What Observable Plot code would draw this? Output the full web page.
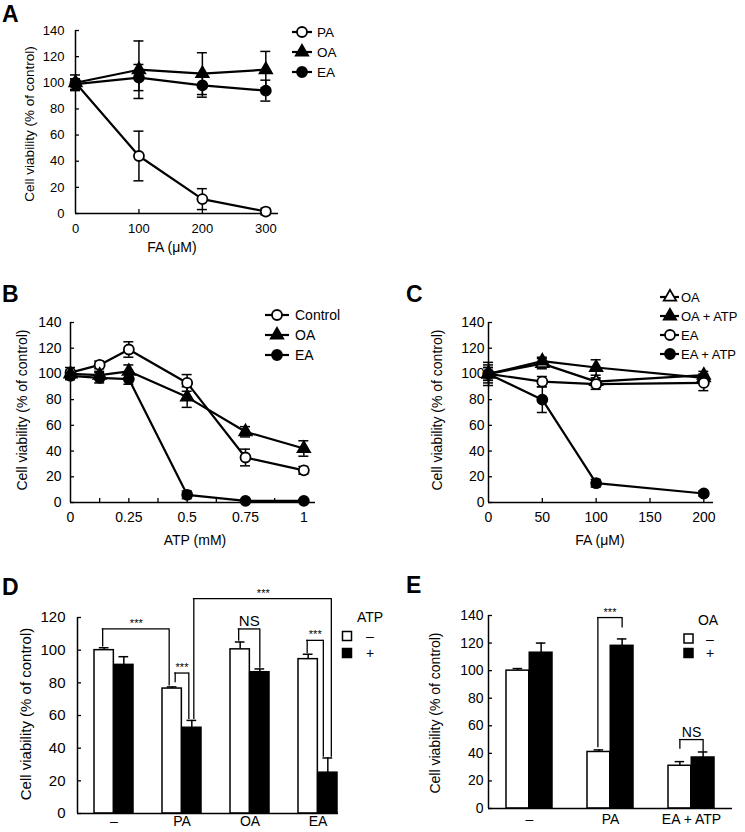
<!DOCTYPE html>
<html>
<head>
<meta charset="utf-8">
<script src="https://cdn.jsdelivr.net/npm/d3@7"></script>
<script src="https://cdn.jsdelivr.net/npm/@observablehq/plot@0.6"></script>
<style>
html,body{margin:0;padding:0;background:#fff;}
#fig{position:relative;width:745px;height:832px;overflow:hidden;background:#fff;}
#fig svg{position:absolute;left:0;top:0;}
</style>
</head>
<body>
<div id="fig"></div>
<script>
// ================= DATA =================
// Panel A
const faA = [0, 100, 200, 300];
const paA = [100, 44, 11, 1.5];
const paAErr = [3, 19, 8, 2.5];
const oaA = [100, 110, 107, 110];
const oaAErr = [6, 22, 16, 14];
const eaA = [99, 104, 98, 94];
const eaAErr = [4, 10, 9, 8];
const xLabelsA = [0, 100, 200, 300];

// Panel B
const atpB = [0, 0.125, 0.25, 0.5, 0.75, 1];
const ctrlB = [101, 107, 119, 93, 35, 25];
const ctrlBErr = [4, 3, 6, 6.5, 6.5, 3];
const oaB = [100, 99, 102, 82, 55, 42];
const oaBErr = [3, 3, 5, 8, 4, 6];
const eaB = [98.5, 97, 96, 6, 1.3, 1.3];
const eaBErr = [3, 4, 4, 3, 1, 1];
const xLabelsB = [0, 0.25, 0.5, 0.75, 1];
const xMinorB = [0.125, 0.25, 0.375, 0.5, 0.625, 0.75, 0.875, 1];

// Panel C
const faC = [0, 50, 100, 200];
const oaC = [100, 108, 94, 99];
const oaCErr = [9, 4, 3, 3];
const oaAtpC = [100, 110, 105, 97];
const oaAtpCErr = [5, 3, 6, 3];
const eaC = [100, 94, 92, 93];
const eaCErr = [7, 4, 4, 6];
const eaAtpC = [100, 80, 15, 7];
const eaAtpCErr = [5, 10, 3, 2];
const xLabelsC = [0, 50, 100, 150, 200];

const yTicks140 = [0, 20, 40, 60, 80, 100, 120, 140];
const yTicks120 = [0, 20, 40, 60, 80, 100, 120];

// Panel D
const groupsD = ["–", "PA", "OA", "EA"];
const atpMinusD = [100, 76.5, 100.5, 94.5];
const atpMinusDErr = [1.5, 1, 4.5, 3];
const atpPlusD = [91, 52.5, 86.5, 25];
const atpPlusDErr = [5, 4.5, 2, 9];
const bracketsD = [
  {g1: "–", s1: "minus", g2: "PA", s2: "minus", y1: 102, yTop: 113, y2: 78, label: "***"},
  {g1: "PA", s1: "minus", g2: "PA", s2: "plus", y1: 80, yTop: 86, y2: 57.5, label: "***"},
  {g1: "PA", s1: "plus", g2: "EA", s2: "plus", y1: 57.5, yTop: 131.5, y2: 34.5, label: "***"},
  {g1: "OA", s1: "minus", g2: "OA", s2: "plus", y1: 105.5, yTop: 113, y2: 89, label: "NS"},
  {g1: "EA", s1: "minus", g2: "EA", s2: "plus", y1: 98, yTop: 106, y2: 34.5, label: "***"}
];

// Panel E
const groupsE = ["–", "PA", "EA + ATP"];
const oaMinusE = [100, 41, 31];
const oaMinusEErr = [1.5, 1.5, 3];
const oaPlusE = [113, 118, 37];
const oaPlusEErr = [7, 5, 4];
const bracketsE = [
  {g1: "PA", s1: "minus", g2: "PA", s2: "plus", y1: 44, yTop: 138.5, y2: 131, label: "***"},
  {g1: "EA + ATP", s1: "minus", g2: "EA + ATP", s2: "plus", y1: 43, yTop: 50, y2: 41, label: "NS"}
];

// ================= STYLE / LAYOUT =================
const W = 745, H = 832;
const FONT = "Arial, 'Liberation Sans', Helvetica, sans-serif";
const fig = document.getElementById("fig");
// small pixel nudges so that overlapping bracket legs stay visible
const nudgesD = [[-1.5, -3], [3, -3], [2, 3.5], [-1.5, 0], [-1, -4.5]];
const nudgesE = [[-1, 0], [0, 0]];

function addPlot(opts) {
  const svg = Plot.plot({
    width: W, height: H, ...opts,
    style: {fontFamily: FONT, fontSize: "13px", color: "#000", background: "transparent", overflow: "visible"}
  });
  svg.style.position = "absolute";
  svg.style.left = "0px";
  svg.style.top = "0px";
  fig.appendChild(svg);
}

function linePanel(cfg) {
  const marks = [];
  marks.push(Plot.ruleY([0], {stroke: "#000", strokeWidth: 1.5}));
  marks.push(Plot.ruleX([cfg.xDomain[0]], {stroke: "#000", strokeWidth: 1.5}));
  marks.push(Plot.axisY({ticks: cfg.yTicks, tickSize: -4, tickPadding: cfg.yPad, tickFormat: d => String(d), fontSize: cfg.fs, label: null, strokeWidth: 1.3, fill: "#000"}));
  marks.push(Plot.axisX({ticks: cfg.xMinor, tickSize: -4, tickFormat: () => "", label: null, strokeWidth: 1.3}));
  marks.push(Plot.axisX({ticks: cfg.xLabels, tickSize: 0, tickPadding: cfg.xPad, tickFormat: d => String(d), fontSize: cfg.fs, label: null, fill: "#000"}));
  const sets = cfg.series.map(s => s.x.map((x, i) => ({x, y: s.y[i], e: s.err[i]})));
  sets.forEach(rows => marks.push(Plot.line(rows, {x: "x", y: "y", stroke: "#000", strokeWidth: 2.2})));
  sets.forEach(rows => {
    marks.push(Plot.ruleX(rows, {x: "x", y1: d => d.y - d.e, y2: d => d.y + d.e, stroke: "#000", strokeWidth: 1.5}));
    marks.push(Plot.ruleY(rows, {x1: "x", x2: "x", y: d => d.y + d.e, insetLeft: -5, insetRight: -5, stroke: "#000", strokeWidth: 1.5}));
    marks.push(Plot.ruleY(rows, {x1: "x", x2: "x", y: d => d.y - d.e, insetLeft: -5, insetRight: -5, stroke: "#000", strokeWidth: 1.5}));
  });
  sets.forEach((rows, k) => {
    const s = cfg.series[k];
    marks.push(Plot.dot(rows, {x: "x", y: "y", symbol: s.symbol, r: s.symbol === "triangle" ? 4.6 : 5, fill: s.fill, stroke: "#000", strokeWidth: 1.8}));
  });
  addPlot({
    marginLeft: cfg.frame[0], marginRight: W - cfg.frame[1], marginTop: cfg.frame[2], marginBottom: H - cfg.frame[3],
    x: {domain: cfg.xDomain, label: null}, y: {domain: [0, 140], label: null},
    marks
  });
}

function barPanel(cfg) {
  const [fl, fr, ft, fb] = cfg.frame;
  const band = d3.scaleBand().domain(cfg.groups).range([fl, fr])
    .paddingInner(cfg.pi).paddingOuter(cfg.po).align(cfg.align);
  const bw = band.bandwidth();
  const rows = cfg.groups.map((g, i) => ({g, m: cfg.minus[i], me: cfg.minusErr[i], p: cfg.plus[i], pe: cfg.plusErr[i]}));
  const cap = 5;
  const center = {minus: bw / 4, plus: 3 * bw / 4};
  const marks = [
    Plot.barY(rows, {x: "g", y: "m", fill: "#fff", stroke: "#000", strokeWidth: 1.5, insetRight: bw / 2}),
    Plot.barY(rows, {x: "g", y: "p", fill: "#000", stroke: "#000", strokeWidth: 1.5, insetLeft: bw / 2}),
    Plot.ruleX(rows, {x: "g", y1: "m", y2: d => d.m + d.me, dx: -bw / 4, stroke: "#000", strokeWidth: 1.5}),
    Plot.ruleY(rows, {x1: "g", x2: "g", y: d => d.m + d.me, insetLeft: bw / 4 - cap, insetRight: 3 * bw / 4 - cap, stroke: "#000", strokeWidth: 1.5}),
    Plot.ruleX(rows, {x: "g", y1: "p", y2: d => d.p + d.pe, dx: bw / 4, stroke: "#000", strokeWidth: 1.5}),
    Plot.ruleY(rows, {x1: "g", x2: "g", y: d => d.p + d.pe, insetLeft: 3 * bw / 4 - cap, insetRight: bw / 4 - cap, stroke: "#000", strokeWidth: 1.5}),
    Plot.ruleY([0], {stroke: "#000", strokeWidth: 1.5}),
    Plot.ruleX([0], {x: null, dx: -(fr - fl) / 2, stroke: "#000", strokeWidth: 1.5}),
    Plot.axisY({ticks: cfg.yTicks, tickSize: -4, tickPadding: cfg.yPad, tickFormat: d => String(d), fontSize: cfg.fs, label: null, strokeWidth: 1.3, fill: "#000"}),
    Plot.axisX({tickSize: 0, tickPadding: cfg.xPad, fontSize: cfg.xfs, label: null, fill: "#000"})
  ];
  cfg.brackets.forEach((b, k) => {
    const [n1, n2] = cfg.nudges[k];
    const p1 = center[b.s1] + n1, p2 = center[b.s2] + n2;
    marks.push(Plot.ruleX([b], {x: "g1", y1: "y1", y2: "yTop", dx: p1 - bw / 2, stroke: "#000", strokeWidth: 1.3}));
    marks.push(Plot.ruleX([b], {x: "g2", y1: "y2", y2: "yTop", dx: p2 - bw / 2, stroke: "#000", strokeWidth: 1.3}));
    marks.push(Plot.ruleY([b], {x1: "g1", x2: "g2", y: "yTop", insetLeft: p1 - 0.65, insetRight: bw - p2 - 0.65, stroke: "#000", strokeWidth: 1.3}));
    const mid = (p1 + band(b.g2) - band(b.g1) + p2) / 2 - bw / 2;
    const isStar = b.label.startsWith("*");
    marks.push(Plot.text([b], {x: "g1", y: "yTop", text: "label", dx: mid, dy: isStar ? -2 : -3, lineAnchor: "bottom",
      fontSize: isStar ? 11 : cfg.fs, fill: "#000"}));
  });
  addPlot({
    marginLeft: fl, marginRight: W - fr, marginTop: ft, marginBottom: H - fb,
    x: {type: "band", domain: cfg.groups, paddingInner: cfg.pi, paddingOuter: cfg.po, align: cfg.align, label: null},
    y: {domain: cfg.yDomain, label: null},
    marks
  });
}

// ================= PANELS =================
linePanel({
  frame: [75, 278, 30, 213], xDomain: [0, 320], yTicks: yTicks140,
  xMinor: [100, 200, 300], xLabels: xLabelsA, yPad: 15, xPad: 10, fs: 13,
  series: [
    {x: faA, y: paA, err: paAErr, symbol: "circle", fill: "#fff"},
    {x: faA, y: oaA, err: oaAErr, symbol: "triangle", fill: "#000"},
    {x: faA, y: eaA, err: eaAErr, symbol: "circle", fill: "#000"}
  ]
});
linePanel({
  frame: [70, 315, 322, 502], xDomain: [0, 1.05], yTicks: yTicks140,
  xMinor: xMinorB, xLabels: xLabelsB, yPad: 13, xPad: 10, fs: 14,
  series: [
    {x: atpB, y: ctrlB, err: ctrlBErr, symbol: "circle", fill: "#fff"},
    {x: atpB, y: oaB, err: oaBErr, symbol: "triangle", fill: "#000"},
    {x: atpB, y: eaB, err: eaBErr, symbol: "circle", fill: "#000"}
  ]
});
linePanel({
  frame: [488, 713, 322, 502], xDomain: [0, 209], yTicks: yTicks140,
  xMinor: [50, 100, 150, 200], xLabels: xLabelsC, yPad: 8, xPad: 10, fs: 14,
  series: [
    {x: faC, y: oaC, err: oaCErr, symbol: "triangle", fill: "#fff"},
    {x: faC, y: oaAtpC, err: oaAtpCErr, symbol: "triangle", fill: "#000"},
    {x: faC, y: eaC, err: eaCErr, symbol: "circle", fill: "#fff"},
    {x: faC, y: eaAtpC, err: eaAtpCErr, symbol: "circle", fill: "#000"}
  ]
});
barPanel({
  frame: [77, 338, 617, 813], groups: groupsD, pi: 0.428, po: 0.1135, align: 0.96,
  minus: atpMinusD, minusErr: atpMinusDErr, plus: atpPlusD, plusErr: atpPlusDErr,
  yDomain: [0, 120], yTicks: yTicks120, yPad: 16, xPad: 3, fs: 15, xfs: 14,
  brackets: bracketsD, nudges: nudgesD
});
barPanel({
  frame: [488, 732, 615, 808], groups: groupsE, pi: 0.433, po: 0.2045, align: 0.5,
  minus: oaMinusE, minusErr: oaMinusEErr, plus: oaPlusE, plusErr: oaPlusEErr,
  yDomain: [0, 140], yTicks: yTicks140, yPad: 9, xPad: 6, fs: 14, xfs: 14,
  brackets: bracketsE, nudges: nudgesE
});

// ================= OVERLAY: letters, axis titles, legends =================
const ov = d3.select(fig).append("svg").attr("width", W).attr("height", H)
  .style("position", "absolute").style("left", "0px").style("top", "0px")
  .attr("font-family", FONT);

function txt(x, y, s, {size = 14, anchor = "middle", weight = "normal", rotate = 0, baseline = "central"} = {}) {
  const t = ov.append("text").attr("x", x).attr("y", y).attr("font-size", size).attr("fill", "#000")
    .attr("text-anchor", anchor).attr("font-weight", weight).attr("dominant-baseline", baseline).text(s);
  if (rotate) t.attr("transform", `rotate(${rotate},${x},${y})`);
  return t;
}

// panel letters
[["A", 2, 22], ["B", 2, 302], ["C", 406, 302], ["D", 2, 595], ["E", 406, 593]]
  .forEach(([s, x, y]) => txt(x, y, s, {size: 23, anchor: "start", weight: "bold", baseline: "alphabetic"}));

// axis titles
const yTitle = "Cell viability (% of control)";
txt(29, 124, yTitle, {size: 13.5, rotate: -90});
txt(22, 410, yTitle, {size: 14, rotate: -90});
txt(437, 410, yTitle, {size: 14, rotate: -90});
txt(25, 714, yTitle, {size: 15, rotate: -90});
txt(435, 713, yTitle, {size: 14, rotate: -90});
txt(172, 247, "FA (μM)", {size: 14});
txt(195, 540, "ATP (mM)", {size: 14});
txt(600, 540, "FA (μM)", {size: 14});

// line legends
function symbolPath(shape, r) {
  return d3.symbol(shape === "triangle" ? d3.symbolTriangle : d3.symbolCircle, Math.PI * r * r)();
}
function lineLegend(items, {x0, x1, cx, tx, ys, size}) {
  items.forEach((it, i) => {
    const y = ys[i];
    ov.append("line").attr("x1", x0).attr("x2", x1).attr("y1", y).attr("y2", y)
      .attr("stroke", "#000").attr("stroke-width", 2.2);
    ov.append("path").attr("d", symbolPath(it.symbol, it.symbol === "triangle" ? 4.6 : 5))
      .attr("transform", `translate(${cx},${y})`).attr("fill", it.fill)
      .attr("stroke", "#000").attr("stroke-width", 1.8);
    txt(tx, y, it.label, {size, anchor: "start"});
  });
}
lineLegend([
  {label: "PA", symbol: "circle", fill: "#fff"},
  {label: "OA", symbol: "triangle", fill: "#000"},
  {label: "EA", symbol: "circle", fill: "#000"}
], {x0: 292, x1: 312, cx: 302, tx: 317, ys: [32, 52, 72], size: 13.5});
lineLegend([
  {label: "Control", symbol: "circle", fill: "#fff"},
  {label: "OA", symbol: "triangle", fill: "#000"},
  {label: "EA", symbol: "circle", fill: "#000"}
], {x0: 265, x1: 289, cx: 277, tx: 295, ys: [315, 335, 355], size: 14});
lineLegend([
  {label: "OA", symbol: "triangle", fill: "#fff"},
  {label: "OA + ATP", symbol: "triangle", fill: "#000"},
  {label: "EA", symbol: "circle", fill: "#fff"},
  {label: "EA + ATP", symbol: "circle", fill: "#000"}
], {x0: 660, x1: 679, cx: 670, tx: 681, ys: [297, 316, 335, 354], size: 13});

// bar legends
function barLegend(title, {tx, ty, sx, ys, lx, size}) {
  txt(tx, ty, title, {size});
  [["#fff", "–"], ["#000", "+"]].forEach(([f, s], i) => {
    ov.append("rect").attr("x", sx - 4.5).attr("y", ys[i] - 4.5).attr("width", 9).attr("height", 9)
      .attr("fill", f).attr("stroke", "#000").attr("stroke-width", 1.5);
    txt(lx, ys[i], s, {size});
  });
}
barLegend("ATP", {tx: 370, ty: 617, sx: 347, ys: [636, 653], lx: 370, size: 14});
barLegend("OA", {tx: 708, ty: 620, sx: 688.5, ys: [638.5, 653], lx: 710, size: 14});
</script>
</body>
</html>
